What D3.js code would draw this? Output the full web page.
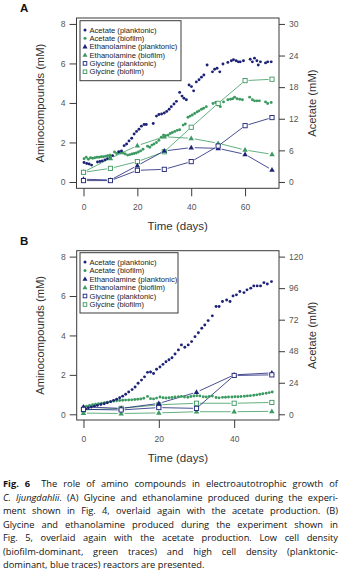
<!DOCTYPE html>
<html>
<head>
<meta charset="utf-8">
<script src="https://cdn.jsdelivr.net/npm/d3@7"></script>
<style>
  body { margin: 0; background: #fff; }
  svg text { font-family: "Liberation Sans", Arial, sans-serif; }
</style>
</head>
<body>
<div id="graph"></div>
<script>
// ---------- data: panel A ----------
const daysAcPlankA = [0.2,1.2,2.1,3.0,5.2,6.1,7.0,8.0,8.9,9.9,10.8,13.1,14.1,15.1,16.0,16.9,17.9,18.8,19.7,20.6,21.5,22.5,23.3,25.9,27.1,28.0,29.0,30.0,30.9,31.8,32.6,33.6,34.5,35.7,36.6,37.3,38.2,39.2,40.1,40.9,41.9,42.9,43.8,44.7,45.9,47.9,48.7,49.6,50.6,51.8,53.6,54.9,55.7,56.7,57.5,58.2,59.4,61.9,62.7,63.5,64.4,64.9,65.7,67.6,68.4,69.7];
const acPlankA = [3.7,3.5,3.4,3.2,3.8,3.9,4.0,4.2,4.4,4.6,5.0,5.75,5.9,6.9,7.2,7.8,8.3,9.1,9.6,10.0,10.6,10.9,10.9,11.1,12.5,12.8,12.9,13.1,13.4,13.8,14.3,14.8,15.3,17.0,16.3,15.9,15.6,18.4,18.1,17.3,19.0,19.4,19.9,20.3,22.2,20.9,21.4,21.6,20.9,22.4,22.7,23.0,23.2,23.0,22.8,22.8,23.0,23.3,22.8,23.5,23.0,22.2,22.8,22.6,22.8,22.8];

const daysAcBioA = [0.2,1.0,1.8,2.6,3.4,4.2,5.0,5.8,6.6,7.4,8.2,9.0,9.8,11.5,12.3,13.1,13.9,14.7,15.5,16.4,17.2,18.0,18.8,19.6,20.4,21.2,22.1,23.8,24.6,25.4,26.2,27.1,28.0,28.9,29.7,30.5,31.4,32.2,33.0,33.9,34.8,35.7,37.0,37.8,38.8,39.6,40.4,41.3,42.2,42.9,43.8,44.6,45.6,48.1,49.1,49.9,50.8,52.0,53.6,54.6,55.4,56.1,57.0,58.0,59.0,61.7,62.7,63.5,64.4,65.3,67.6,68.4,69.7];
const acBioA = [4.4,4.7,4.3,4.6,4.5,4.6,4.7,4.7,4.8,4.8,4.9,5.0,5.1,5.7,5.4,5.6,5.5,5.5,5.3,5.1,5.2,5.3,5.4,5.5,5.7,5.9,6.2,6.8,6.6,7.0,7.2,7.5,7.9,8.5,8.9,8.8,8.9,9.2,9.4,9.6,9.8,9.9,10.8,11.0,12.3,12.5,12.7,13.0,13.3,13.5,13.8,14.0,14.3,14.9,15.1,14.6,14.3,15.2,15.6,15.7,15.8,16.1,15.8,15.7,15.6,16.1,15.6,15.4,15.4,15.4,15.2,14.9,15.1];

const sampleDaysA = [0,10,20,30,40,50,60,70];
const ethPlankA = [0.14,0.10,0.83,1.57,1.74,1.70,1.40,0.61];
const ethBioA   = [0.50,1.20,1.84,2.29,2.21,1.96,1.62,1.40];
const glyPlankA = [0.07,0.07,0.59,0.64,1.03,1.82,2.85,3.26];
const glyBioA   = [0.49,0.69,1.03,1.53,2.77,3.98,5.13,5.20];

// ---------- data: panel B ----------
const daysAcPlankB = [0,0.6,1.3,2.1,2.9,3.7,4.6,5.5,6.3,7.2,8.0,8.8,9.6,10.4,11.2,12.0,12.9,13.7,14.5,15.4,16.2,17.0,17.8,18.6,19.4,20.3,21.1,21.9,22.7,23.5,24.3,25.2,26.0,26.9,27.8,28.7,29.6,30.5,31.4,32.2,33.1,34.2,35.2,36.0,36.9,38.0,38.9,39.7,40.6,41.5,42.6,43.4,44.4,45.2,46.1,47.0,47.9,48.8,49.9];
const acPlankB = [2.7,4.0,5.0,5.6,6.2,6.8,7.4,8.0,8.8,9.6,10.6,11.5,12.6,13.8,15.2,17.0,18.8,20.8,23.6,26.0,28.5,31.9,32.2,31.0,34.3,36.0,38.0,40.0,41.5,43.0,45.9,49.0,52.8,51.0,52.8,55.3,59.1,62.1,65.5,68.0,71.3,74.9,82.0,82.0,85.8,87.0,85.8,90.1,90.9,93.4,92.6,94.7,96.0,97.7,97.7,97.7,100.2,99.2,101.0];

const daysAcBioB = [0,0.8,1.6,2.4,3.2,4.0,4.8,5.6,6.4,7.2,8.0,8.8,9.6,10.4,11.2,12.0,12.8,13.6,14.4,15.2,16.0,17.0,17.8,18.6,19.4,20.3,21.1,21.9,22.7,23.5,24.3,25.2,26.0,26.8,27.7,28.5,29.3,30.1,30.9,31.8,32.6,33.4,34.2,35.2,36.0,36.9,37.7,38.5,39.4,40.2,41.0,41.8,42.7,43.5,44.3,45.2,46.0,46.8,47.6,48.5,49.3,50.1];
const acBioB = [5.5,6.2,6.8,7.2,7.6,8.0,8.4,8.8,9.2,9.6,10.0,10.3,10.5,10.7,10.8,10.9,11.0,11.2,11.4,11.6,12.2,13.6,11.9,11.7,12.3,13.2,12.6,12.4,12.6,12.8,13.1,13.3,13.6,13.1,13.0,13.5,13.9,14.2,14.0,13.4,13.2,13.6,13.9,12.8,12.5,12.9,13.0,13.1,13.2,13.3,13.4,13.5,13.7,14.0,14.2,14.5,14.8,15.2,15.6,16.0,16.5,17.0];

const sampleDaysB = [0,10,20,30,40,50];
const ethPlankB = [0.38,0.30,0.55,1.12,2.00,2.10];
const ethBioB   = [0.06,0.04,0.07,0.13,0.13,0.15];
const glyPlankB = [0.25,0.22,0.34,0.30,1.97,2.00];
const glyBioB   = [0.22,0.30,0.48,0.56,0.56,0.60];

const legendNames = ["Acetate (planktonic)","Acetate (biofilm)","Ethanolamine (planktonic)","Ethanolamine (biofilm)","Glycine (planktonic)","Glycine (biofilm)"];

const BLUE = "#1c2276", GREEN = "#3b9a60";
const AXIS = "#3a3a3a", LABEL = "#555";

const svg = d3.select("#graph").append("svg")
  .attr("width", 341).attr("height", 579);

function zip(xs, ys) { return xs.map((d, i) => [d, ys[i]]); }

//markers
function dots(g, pts, x, y, color) {
  g.append("g").selectAll("circle").data(pts).enter().append("circle")
    .attr("cx", d => x(d[0])).attr("cy", d => y(d[1]))
    .attr("r", 1.45).attr("fill", color);
}
function triangles(g, pts, x, y, color) {
  g.append("g").selectAll("path").data(pts).enter().append("path")
    .attr("d", d3.symbol(d3.symbolTriangle).size(13))
    .attr("transform", d => "translate(" + x(d[0]) + "," + (y(d[1]) + 0.3) + ")")
    .attr("fill", color);
}
function squares(g, pts, x, y, color) {
  g.append("g").selectAll("rect").data(pts).enter().append("rect")
    .attr("x", d => x(d[0]) - 2.1).attr("y", d => y(d[1]) - 2.1)
    .attr("width", 4.2).attr("height", 4.2)
    .attr("fill", "#fff").attr("stroke", color).attr("stroke-width", 0.9);
}
// connecting segments, with a small gap left around each marker
function line(g, pts, x, y, color) {
  const gap = 3.5;
  const segs = d3.pairs(pts).map(([a, b]) => {
    const x1 = x(a[0]), y1 = y(a[1]), x2 = x(b[0]), y2 = y(b[1]);
    const len = Math.hypot(x2 - x1, y2 - y1);
    const ux = (x2 - x1) / len, uy = (y2 - y1) / len;
    return [x1 + ux * gap, y1 + uy * gap, x2 - ux * gap, y2 - uy * gap];
  });
  g.append("g").selectAll("line").data(segs).enter().append("line")
    .attr("x1", d => d[0]).attr("y1", d => d[1]).attr("x2", d => d[2]).attr("y2", d => d[3])
    .attr("stroke", color).attr("stroke-width", 0.8);
}

function styleAxis(a) {
  a.select(".domain").remove();
  a.selectAll("line").attr("stroke", AXIS).attr("stroke-width", 1);
  a.selectAll("text").attr("fill", LABEL).attr("font-size", 8.5)
    .attr("font-family", "Liberation Sans, Arial, sans-serif");
}

function drawPanel(p) {
  const x = d3.scaleLinear().domain(p.xDomain).range([p.left, p.right]);
  const y = d3.scaleLinear().domain(p.yDomain).range([p.bottom, p.top]);
  const yR = d3.scaleLinear().domain(p.yDomain.map(v => v * p.ratio)).range([p.bottom, p.top]);
  const g = svg.append("g");

  // frame
  g.append("rect").attr("x", p.left).attr("y", p.top)
    .attr("width", p.right - p.left).attr("height", p.bottom - p.top)
    .attr("fill", "none").attr("stroke", AXIS).attr("stroke-width", 1);

  // axes
  styleAxis(g.append("g").attr("transform", "translate(" + p.left + ",0)")
    .call(d3.axisLeft(y).tickValues([0, 2, 4, 6, 8]).tickSize(7).tickPadding(4)));
  styleAxis(g.append("g").attr("transform", "translate(" + p.right + ",0)")
    .call(d3.axisRight(yR).tickValues(p.rightTicks).tickSize(6).tickPadding(4)));
  styleAxis(g.append("g").attr("transform", "translate(0," + p.bottom + ")")
    .call(d3.axisBottom(x).tickValues(p.xTicks).tickSize(8).tickPadding(8)));

  // titles
  g.append("text").attr("x", 20).attr("y", p.top - 6)
    .attr("font-size", 11.5).attr("font-weight", "bold").attr("fill", "#111").text(p.label);
  g.append("text").attr("transform", "translate(44," + (p.top + p.bottom) / 2 + ") rotate(-90)")
    .attr("text-anchor", "middle").attr("font-size", 11.2).attr("fill", "#333")
    .text("Aminocompounds (mM)");
  g.append("text").attr("transform", "translate(316," + (p.top + p.bottom) / 2 + ") rotate(-90)")
    .attr("text-anchor", "middle").attr("font-size", 11.2).attr("fill", "#333")
    .text("Acetate (mM)");
  g.append("text").attr("x", (p.left + p.right) / 2).attr("y", p.bottom + 42)
    .attr("text-anchor", "middle").attr("font-size", 11.5).attr("fill", "#333")
    .text("Time (days)");

  // sparse series: lines then markers
  const gp = zip(p.sampleDays, p.glyPlank), gb = zip(p.sampleDays, p.glyBio);
  const ep = zip(p.sampleDays, p.ethPlank), eb = zip(p.sampleDays, p.ethBio);
  line(g, gb, x, y, GREEN); line(g, eb, x, y, GREEN);
  line(g, gp, x, y, BLUE); line(g, ep, x, y, BLUE);

  dots(g, zip(p.acBioDays, p.acBio), x, yR, GREEN);
  dots(g, zip(p.acPlankDays, p.acPlank), x, yR, BLUE);

  triangles(g, eb, x, y, GREEN);
  squares(g, gb, x, y, GREEN);
  triangles(g, ep, x, y, BLUE);
  squares(g, gp, x, y, BLUE);

  // legend
  const lg = g.append("g").attr("transform", "translate(" + p.legend.x + "," + p.legend.y + ")");
  lg.append("rect").attr("width", p.legend.w).attr("height", p.legend.h)
    .attr("fill", "#fff").attr("stroke", AXIS).attr("stroke-width", 1);
  const colors = [BLUE, GREEN, BLUE, GREEN, BLUE, GREEN];
  legendNames.forEach((name, i) => {
    const cy = 9.3 + i * p.legend.step;
    const c = colors[i];
    if (i < 2) lg.append("circle").attr("cx", 5).attr("cy", cy).attr("r", 1.5).attr("fill", c);
    else if (i < 4) lg.append("path").attr("d", d3.symbol(d3.symbolTriangle).size(11))
      .attr("transform", "translate(5," + (cy + 0.3) + ")").attr("fill", c);
    else lg.append("rect").attr("x", 3.2).attr("y", cy - 1.8).attr("width", 3.6).attr("height", 3.6)
      .attr("fill", "#fff").attr("stroke", c).attr("stroke-width", 0.9);
    lg.append("text").attr("x", 9.5).attr("y", cy + 2.6)
      .attr("font-size", 7.6).attr("fill", "#222").text(name);
  });
}

drawPanel({
  label: "A", left: 76.5, right: 279, top: 18, bottom: 188.3,
  xDomain: [-2.6, 72.6], yDomain: [-0.32, 8.30], ratio: 3.75,
  xTicks: [0, 20, 40, 60], rightTicks: [0, 6, 12, 18, 24, 30],
  acPlankDays: daysAcPlankA, acPlank: acPlankA, acBioDays: daysAcBioA, acBio: acBioA,
  sampleDays: sampleDaysA, ethPlank: ethPlankA, ethBio: ethBioA, glyPlank: glyPlankA, glyBio: glyBioA,
  legend: { x: 80, y: 20.7, w: 101, h: 60, step: 8.35 }
});

drawPanel({
  label: "B", left: 76.7, right: 279, top: 250.7, bottom: 420,
  xDomain: [-1.8, 51.9], yDomain: [-0.29, 8.30], ratio: 15,
  xTicks: [0, 20, 40], rightTicks: [0, 24, 48, 72, 96, 120],
  acPlankDays: daysAcPlankB, acPlank: acPlankB, acBioDays: daysAcBioB, acBio: acBioB,
  sampleDays: sampleDaysB, ethPlank: ethPlankB, ethBio: ethBioB, glyPlank: glyPlankB, glyBio: glyBioB,
  legend: { x: 80, y: 252.7, w: 98, h: 60.3, step: 8.5 }
});

// ---------- caption ----------
const captionLines = [
  [["Fig. 6", "b"], [" The role of amino compounds in electroautotrophic growth of", ""]],
  [["C. ljungdahlii", "i"], [". (A) Glycine and ethanolamine produced during the experi-", ""]],
  [["ment shown in Fig. 4, overlaid again with the acetate production. (B)", ""]],
  [["Glycine and ethanolamine produced during the experiment shown in", ""]],
  [["Fig. 5, overlaid again with the acetate production. Low cell density", ""]],
  [["(biofilm-dominant, green traces) and high cell density (planktonic-", ""]],
  [["dominant, blue traces) reactors are presented.", ""]]
];
const capLeft = 3, capRight = 338, capTop = 487, capStep = 13.55, capSize = 9.3;
const cap = svg.append("g").attr("font-size", capSize).attr("fill", "#111");

function setStyle(t, s) {
  t.style("font-family", "'Open Sans', 'Noto Sans', sans-serif");
  if (s === "b") t.attr("font-weight", "bold");
  if (s === "i") t.attr("font-style", "italic");
}

captionLines.forEach((segs, li) => {
  // split into words; a segment not starting with a space is glued to the previous word
  const words = [];
  segs.forEach(([txt, s], si) => {
    txt.split(" ").forEach((w, wi) => {
      if (w === "") return;
      if (wi === 0 && si > 0 && words.length) words[words.length - 1].push([w, s]);
      else words.push([[w, s]]);
    });
  });
  const yy = capTop + li * capStep;
  const widths = words.map(w => {
    const t = cap.append("text").attr("y", -100);
    w.forEach(([txt, s]) => setStyle(t.append("tspan").text(txt), s));
    const len = t.node().getComputedTextLength();
    t.remove();
    return len;
  });
  const total = d3.sum(widths);
  const last = li === captionLines.length - 1;
  const extra = li === 0 ? 5 : 0;
  const gap = last ? capSize * 0.26 : (capRight - capLeft - total - extra) / (words.length - 1);
  let xx = capLeft;
  words.forEach((w, wi) => {
    const t = cap.append("text").attr("x", xx).attr("y", yy);
    w.forEach(([txt, s]) => setStyle(t.append("tspan").text(txt), s));
    xx += widths[wi] + gap + (li === 0 && wi === 1 ? extra : 0);
  });
});
</script>
</body>
</html>
